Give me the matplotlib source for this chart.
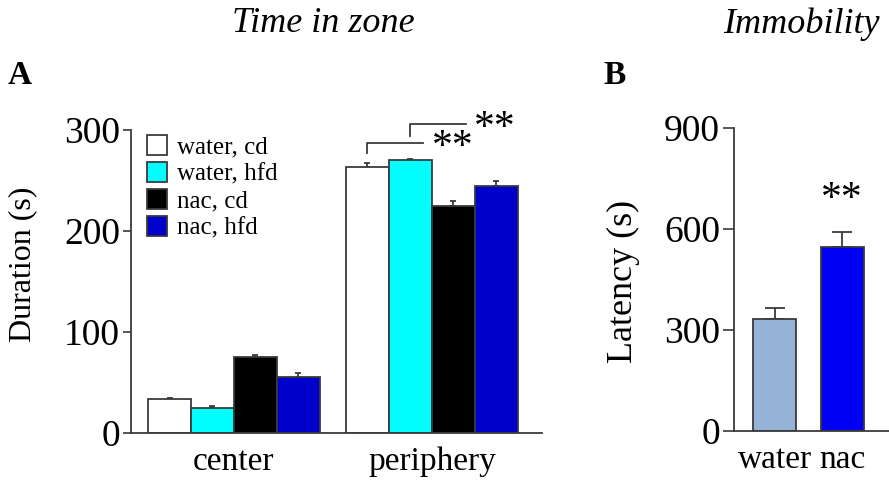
import numpy as np
import matplotlib
matplotlib.use('Agg')
import matplotlib.pyplot as plt
from matplotlib.patches import Patch

plt.rcParams['font.family'] = ['Liberation Serif', 'DejaVu Serif']

##### time in zone (panel A) #####
zones = ['center', 'periphery']
groups = ['water, cd', 'water, hfd', 'nac, cd', 'nac, hfd']
zone_mean = [[33.3, 263.7],
             [25.0, 270.0],
             [75.0, 224.8],
             [55.8, 244.5]]
zone_err = [[1.0, 4.0],
            [1.3, 1.3],
            [2.3, 5.3],
            [4.0, 5.3]]
group_colors = ['white', '#00FFFF', 'black', '#0000CC']

##### immobility latency (panel B) #####
treat = ['water', 'nac']
lat_mean = [332, 547]
lat_err = [32, 43]
treat_colors = ['#95B3D7', '#0000F5']

edge = '#3a3a3a'

fig = plt.figure(figsize=(8.89, 4.83), dpi=100)

axA = fig.add_axes([131/889, 50/483, 411/889, 303/483])
w = 0.217
x = np.arange(len(zones))
for i in range(len(groups)):
    pos = x + (i - 1.5)*w
    axA.bar(pos, zone_mean[i], width=w, color=group_colors[i], edgecolor=edge,
            linewidth=1.3, label=groups[i], zorder=2)
    axA.errorbar(pos, zone_mean[i], yerr=[np.zeros(len(zones)), zone_err[i]], fmt='none',
                 ecolor=edge, elinewidth=1.3, capsize=2.5, capthick=1.3, zorder=1)

axA.set_xlim(-0.52, 1.556)
axA.set_ylim(0, 300)
axA.set_yticks([0, 100, 200, 300])
axA.set_xticks(x)
axA.set_xticklabels(zones, fontsize=24)
axA.tick_params(axis='x', length=0, pad=10)
axA.tick_params(axis='y', labelsize=27, length=6, width=1.2, color=edge, pad=2)
for s in ['top', 'right']:
    axA.spines[s].set_visible(False)
for s in ['left', 'bottom']:
    axA.spines[s].set_color(edge)
    axA.spines[s].set_linewidth(1.3)

handles = [Patch(facecolor=c, edgecolor=edge, linewidth=1.3) for c in group_colors]
axA.legend(handles, groups, loc='upper left', bbox_to_anchor=(-0.004, 1.04), frameon=False,
           fontsize=18, handlelength=0.8, handleheight=0.8, handletextpad=0.4,
           labelspacing=0.15, borderpad=0.2)

# significance brackets over periphery
b1 = [1 - 1.5*w, 0.955]
b2 = [1 - 0.5*w, 1.172]
axA.plot([b1[0], b1[0], b1[1]], [277, 287, 287], color=edge, lw=1.3, clip_on=False)
axA.plot([b2[0], b2[0], b2[1]], [294, 306, 306], color=edge, lw=1.3, clip_on=False)
axA.text(1.106, 282, '**', fontsize=30, ha='center', va='center')
axA.text(1.318, 301, '**', fontsize=30, ha='center', va='center')

axB = fig.add_axes([734/889, 52/483, 155/889, 303/483])
xb = np.arange(len(treat))
axB.bar(xb, lat_mean, width=0.64, color=treat_colors, edgecolor=edge, linewidth=1.3, zorder=2)
axB.errorbar(xb, lat_mean, yerr=[np.zeros(len(treat)), lat_err], fmt='none',
             ecolor=edge, elinewidth=1.3, capsize=7.5, capthick=1.3, zorder=1)
axB.set_xlim(-0.61, 1.70)
axB.set_ylim(0, 900)
axB.set_yticks([0, 300, 600, 900])
axB.set_xticks(xb)
axB.set_xticklabels(treat, fontsize=24)
axB.tick_params(axis='x', length=0, pad=10)
axB.tick_params(axis='y', labelsize=27, length=8, width=1.2, color=edge, pad=2)
for s in ['top', 'right']:
    axB.spines[s].set_visible(False)
for s in ['left', 'bottom']:
    axB.spines[s].set_color(edge)
    axB.spines[s].set_linewidth(1.3)
axB.text(1, 687, '**', fontsize=30, ha='center', va='center')

# axis titles placed on the figure so they sit in the left margins
fig.text(23/889, 1 - 264/483, 'Duration (s)', fontsize=23, rotation=90, ha='center', va='center')
fig.text(623/889, 1 - 281/483, 'Latency (s)', fontsize=26, rotation=90, ha='center', va='center')

fig.text(323/889, 1 - 24/483, 'Time in zone', fontsize=26, style='italic', ha='center', va='center')
fig.text(801/889, 1 - 24/483, 'Immobility', fontsize=26, style='italic', ha='center', va='center')
fig.text(20/889, 1 - 75/483, 'A', fontsize=24, weight='bold', ha='center', va='center')
fig.text(615/889, 1 - 75/483, 'B', fontsize=24, weight='bold', ha='center', va='center')

fig.savefig('out.png', dpi=100)
